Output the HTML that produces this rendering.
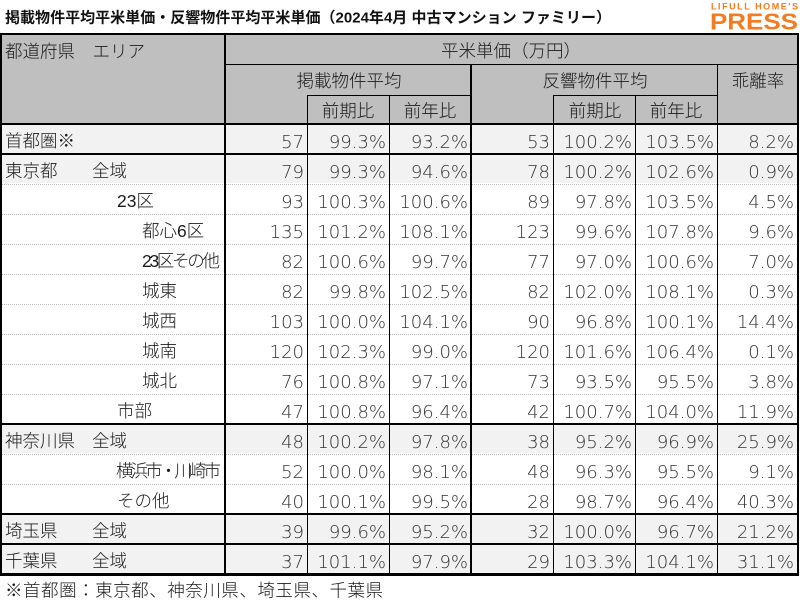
<!DOCTYPE html>
<html>
<head>
<meta charset="utf-8">
<style>
html,body{margin:0;padding:0;background:#fff;}
body{width:800px;height:600px;overflow:hidden;}
svg{display:block;}
.jp{font-family:"Liberation Sans","Noto Sans CJK JP",sans-serif;font-size:17.5px;font-weight:300;fill:#1a1a1a;}
.num{font-family:"DejaVu Sans","Liberation Sans",sans-serif;font-size:18px;font-weight:300;fill:#333;text-anchor:end;}
.mid{text-anchor:middle;}
</style>
</head>
<body>
<svg width="800" height="600" viewBox="0 0 800 600" xmlns="http://www.w3.org/2000/svg">
<rect width="800" height="600" fill="#fff"/>

<!-- Title -->
<text x="5" y="22.5" font-family="'Liberation Sans','Noto Sans CJK JP',sans-serif" font-size="15" font-weight="700" fill="#111" textLength="606" lengthAdjust="spacing">掲載物件平均平米単価・反響物件平均平米単価（2024年4月 中古マンション ファミリー）</text>

<!-- Logo -->
<text x="711" y="9.5" font-family="'Liberation Sans',sans-serif" font-size="9" font-weight="700" fill="#f47b20" textLength="87" lengthAdjust="spacing">LIFULL HOME'S</text>
<text x="710" y="29.5" font-family="'Liberation Sans',sans-serif" font-size="23" font-weight="700" fill="#f47b20" textLength="88" lengthAdjust="spacingAndGlyphs">PRESS</text>

<!-- Header fill -->
<rect x="0" y="35" width="799" height="88" fill="#bfbfbf"/>

<!-- Row fills (light gray rows) -->
<rect x="0" y="123" width="799" height="30" fill="#f2f2f2"/>
<rect x="0" y="153" width="799" height="30" fill="#f2f2f2"/>
<rect x="0" y="423" width="799" height="30" fill="#f2f2f2"/>
<rect x="0" y="513" width="799" height="30" fill="#f2f2f2"/>
<rect x="0" y="543" width="799" height="30" fill="#f2f2f2"/>

<!-- Dotted separators -->
<g stroke="#bdbdbd" stroke-width="1" stroke-dasharray="1 1">
<line x1="0" y1="184.5" x2="799" y2="184.5"/>
<line x1="0" y1="214.5" x2="799" y2="214.5"/>
<line x1="0" y1="244.5" x2="799" y2="244.5"/>
<line x1="0" y1="274.5" x2="799" y2="274.5"/>
<line x1="0" y1="304.5" x2="799" y2="304.5"/>
<line x1="0" y1="334.5" x2="799" y2="334.5"/>
<line x1="0" y1="364.5" x2="799" y2="364.5"/>
<line x1="0" y1="394.5" x2="799" y2="394.5"/>
<line x1="0" y1="454.5" x2="799" y2="454.5"/>
<line x1="0" y1="484.5" x2="799" y2="484.5"/>
</g>

<!-- Horizontal black lines -->
<g fill="#000">
<rect x="0" y="33" width="799" height="2"/>
<rect x="224" y="64" width="575" height="1"/>
<rect x="307" y="95" width="164" height="1"/>
<rect x="553" y="95" width="164" height="1"/>
<rect x="0" y="123" width="799" height="2"/>
<rect x="0" y="153" width="799" height="2"/>
<rect x="0" y="423" width="799" height="2"/>
<rect x="0" y="513" width="799" height="2"/>
<rect x="0" y="543" width="799" height="2"/>
<rect x="0" y="573" width="799" height="3"/>
<!-- Vertical lines -->
<rect x="0" y="33" width="2" height="543"/>
<rect x="224" y="33" width="2" height="543"/>
<rect x="307" y="95" width="1" height="481"/>
<rect x="389" y="95" width="1" height="481"/>
<rect x="470" y="64" width="2" height="512"/>
<rect x="553" y="95" width="1" height="481"/>
<rect x="635" y="95" width="1" height="481"/>
<rect x="717" y="64" width="1" height="512"/>
<rect x="797" y="33" width="2" height="543"/>
</g>

<!-- Header text -->
<text class="jp" x="5" y="57.5">都道府県　エリア</text>
<text class="jp mid" x="511" y="57">平米単価（万円）</text>
<text class="jp mid" x="349" y="87">掲載物件平均</text>
<text class="jp mid" x="595" y="87">反響物件平均</text>
<text class="jp mid" x="758" y="87">乖離率</text>
<text class="jp mid" x="348" y="117">前期比</text>
<text class="jp mid" x="430" y="117">前年比</text>
<text class="jp mid" x="595" y="117">前期比</text>
<text class="jp mid" x="676" y="117">前年比</text>

<!-- Row labels -->
<text class="jp" x="5" y="147">首都圏※</text>
<text class="jp" x="5" y="177">東京都</text><text class="jp" x="92" y="177">全域</text>
<text class="jp" x="117" y="207">23区</text>
<text class="jp" x="142" y="237">都心6区</text>
<text class="jp" x="142" y="267" font-size="15" textLength="78" lengthAdjust="spacing">23区その他</text>
<text class="jp" x="142" y="297">城東</text>
<text class="jp" x="142" y="327">城西</text>
<text class="jp" x="142" y="357">城南</text>
<text class="jp" x="142" y="387">城北</text>
<text class="jp" x="117" y="417">市部</text>
<text class="jp" x="5" y="447">神奈川県</text><text class="jp" x="92" y="447">全域</text>
<text class="jp" x="116" y="477" font-size="14.5" textLength="105" lengthAdjust="spacing">横浜市・川崎市</text>
<text class="jp" x="117" y="507">その他</text>
<text class="jp" x="5" y="537">埼玉県</text><text class="jp" x="92" y="537">全域</text>
<text class="jp" x="5" y="567">千葉県</text><text class="jp" x="92" y="567">全域</text>

<!-- Numbers -->
<g class="num">
<text class="num" x="304" y="148">57</text><text class="num" x="386" y="148">99.3%</text><text class="num" x="468" y="148">93.2%</text><text class="num" x="550" y="148">53</text><text class="num" x="632" y="148">100.2%</text><text class="num" x="714" y="148">103.5%</text><text class="num" x="794" y="148">8.2%</text>
<text class="num" x="304" y="178">79</text><text class="num" x="386" y="178">99.3%</text><text class="num" x="468" y="178">94.6%</text><text class="num" x="550" y="178">78</text><text class="num" x="632" y="178">100.2%</text><text class="num" x="714" y="178">102.6%</text><text class="num" x="794" y="178">0.9%</text>
<text class="num" x="304" y="208">93</text><text class="num" x="386" y="208">100.3%</text><text class="num" x="468" y="208">100.6%</text><text class="num" x="550" y="208">89</text><text class="num" x="632" y="208">97.8%</text><text class="num" x="714" y="208">103.5%</text><text class="num" x="794" y="208">4.5%</text>
<text class="num" x="304" y="238">135</text><text class="num" x="386" y="238">101.2%</text><text class="num" x="468" y="238">108.1%</text><text class="num" x="550" y="238">123</text><text class="num" x="632" y="238">99.6%</text><text class="num" x="714" y="238">107.8%</text><text class="num" x="794" y="238">9.6%</text>
<text class="num" x="304" y="268">82</text><text class="num" x="386" y="268">100.6%</text><text class="num" x="468" y="268">99.7%</text><text class="num" x="550" y="268">77</text><text class="num" x="632" y="268">97.0%</text><text class="num" x="714" y="268">100.6%</text><text class="num" x="794" y="268">7.0%</text>
<text class="num" x="304" y="298">82</text><text class="num" x="386" y="298">99.8%</text><text class="num" x="468" y="298">102.5%</text><text class="num" x="550" y="298">82</text><text class="num" x="632" y="298">102.0%</text><text class="num" x="714" y="298">108.1%</text><text class="num" x="794" y="298">0.3%</text>
<text class="num" x="304" y="328">103</text><text class="num" x="386" y="328">100.0%</text><text class="num" x="468" y="328">104.1%</text><text class="num" x="550" y="328">90</text><text class="num" x="632" y="328">96.8%</text><text class="num" x="714" y="328">100.1%</text><text class="num" x="794" y="328">14.4%</text>
<text class="num" x="304" y="358">120</text><text class="num" x="386" y="358">102.3%</text><text class="num" x="468" y="358">99.0%</text><text class="num" x="550" y="358">120</text><text class="num" x="632" y="358">101.6%</text><text class="num" x="714" y="358">106.4%</text><text class="num" x="794" y="358">0.1%</text>
<text class="num" x="304" y="388">76</text><text class="num" x="386" y="388">100.8%</text><text class="num" x="468" y="388">97.1%</text><text class="num" x="550" y="388">73</text><text class="num" x="632" y="388">93.5%</text><text class="num" x="714" y="388">95.5%</text><text class="num" x="794" y="388">3.8%</text>
<text class="num" x="304" y="418">47</text><text class="num" x="386" y="418">100.8%</text><text class="num" x="468" y="418">96.4%</text><text class="num" x="550" y="418">42</text><text class="num" x="632" y="418">100.7%</text><text class="num" x="714" y="418">104.0%</text><text class="num" x="794" y="418">11.9%</text>
<text class="num" x="304" y="448">48</text><text class="num" x="386" y="448">100.2%</text><text class="num" x="468" y="448">97.8%</text><text class="num" x="550" y="448">38</text><text class="num" x="632" y="448">95.2%</text><text class="num" x="714" y="448">96.9%</text><text class="num" x="794" y="448">25.9%</text>
<text class="num" x="304" y="478">52</text><text class="num" x="386" y="478">100.0%</text><text class="num" x="468" y="478">98.1%</text><text class="num" x="550" y="478">48</text><text class="num" x="632" y="478">96.3%</text><text class="num" x="714" y="478">95.5%</text><text class="num" x="794" y="478">9.1%</text>
<text class="num" x="304" y="508">40</text><text class="num" x="386" y="508">100.1%</text><text class="num" x="468" y="508">99.5%</text><text class="num" x="550" y="508">28</text><text class="num" x="632" y="508">98.7%</text><text class="num" x="714" y="508">96.4%</text><text class="num" x="794" y="508">40.3%</text>
<text class="num" x="304" y="538">39</text><text class="num" x="386" y="538">99.6%</text><text class="num" x="468" y="538">95.2%</text><text class="num" x="550" y="538">32</text><text class="num" x="632" y="538">100.0%</text><text class="num" x="714" y="538">96.7%</text><text class="num" x="794" y="538">21.2%</text>
<text class="num" x="304" y="568">37</text><text class="num" x="386" y="568">101.1%</text><text class="num" x="468" y="568">97.9%</text><text class="num" x="550" y="568">29</text><text class="num" x="632" y="568">103.3%</text><text class="num" x="714" y="568">104.1%</text><text class="num" x="794" y="568">31.1%</text>
</g>

<!-- Footnote -->
<text class="jp" x="5" y="596.5" font-size="18.8" textLength="378" lengthAdjust="spacing">※首都圏：東京都、神奈川県、埼玉県、千葉県</text>
</svg>
</body>
</html>
